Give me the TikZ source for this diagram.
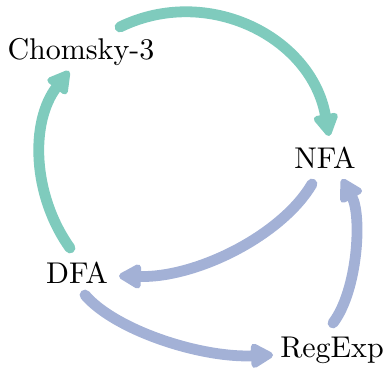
\documentclass[tikz,border=0pt]{standalone}
\usetikzlibrary{arrows.meta}
\definecolor{teal1}{RGB}{127,203,189}
\definecolor{blue1}{RGB}{163,177,214}
\begin{document}
\begin{tikzpicture}[x=0.33333pt,y=-0.33333pt,
  lbl/.style={inner sep=0pt,anchor=base},
  conn/.style={line width=3.6pt,line cap=round,-{Triangle[length=8.5pt,width=9pt,round]}},
  tealconn/.style={conn,draw=teal1},
  blueconn/.style={conn,draw=blue1}]
\useasboundingbox (0,0) rectangle (386,370);
\node[lbl] (c3) at (81,60) {Chomsky-3};
\node[lbl] (nfa) at (325,168) {NFA};
\node[lbl] (dfa) at (77,283) {DFA};
\node[lbl] (re) at (332,357) {RegExp};
% Chomsky-3 -> NFA
\draw[tealconn] ([shift={(39,-33)}]c3.base) .. controls (207.8,-15.8) and (311.8,37.3) .. ([shift={(4,-32)}]nfa.base);
% DFA -> Chomsky-3
\draw[tealconn] ([shift={(-7,-35)}]dfa.base) .. controls (32,194.8) and (30,121.7) .. ([shift={(-12,11)}]c3.base);
% NFA -> DFA
\draw[blueconn] ([shift={(-13,16)}]nfa.base) .. controls (282,235) and (197,278) .. ([shift={(42,-7)}]dfa.base);
% DFA -> RegExp
\draw[blueconn] ([shift={(8,12)}]dfa.base) .. controls (115,330) and (200,358) .. ([shift={(-59,-2)}]re.base);
% RegExp -> NFA
\draw[blueconn] ([shift={(1,-34)}]re.base) .. controls (358,290) and (362,215) .. ([shift={(17,11)}]nfa.base);
\end{tikzpicture}
\end{document}
